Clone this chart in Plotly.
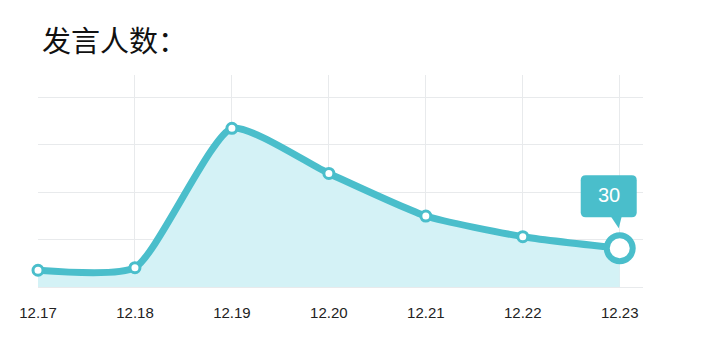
import plotly.graph_objects as go

categories = ["12.17", "12.18", "12.19", "12.20", "12.21", "12.22", "12.23"]
speakers = [13, 15, 123, 88, 55, 39, 30]
title_text = "发言人数："

LINE = "rgb(74,190,203)"
FILL = "rgb(212,242,246)"
GRID = "rgb(232,234,236)"

xs = list(range(len(categories)))

fig = go.Figure()
fig.add_trace(go.Scatter(
    x=xs, y=speakers, mode="lines+markers",
    line=dict(color=LINE, width=7, shape="spline", smoothing=0.55),
    fill="tozeroy", fillcolor=FILL,
    marker=dict(size=10, color="white", line=dict(color=LINE, width=3)),
    hoverinfo="skip", cliponaxis=False,
))
fig.add_trace(go.Scatter(
    x=[xs[-1]], y=[speakers[-1]], mode="markers",
    marker=dict(size=26, color="white", line=dict(color=LINE, width=6)),
    hoverinfo="skip", cliponaxis=False,
))

# tooltip: rounded box + pointer, anchored at the last point (pixel offsets)
r = 5
x0, x1, y0, y1 = -39, 17, 31, 73
box = (f"M {x0+r} {y0} L {x1-r} {y0} Q {x1} {y0} {x1} {y0+r} "
       f"L {x1} {y1-r} Q {x1} {y1} {x1-r} {y1} L {x0+r} {y1} "
       f"Q {x0} {y1} {x0} {y1-r} L {x0} {y0+r} Q {x0} {y0} {x0+r} {y0} Z")
fig.add_shape(
    type="path", xref="x", yref="y", xsizemode="pixel", ysizemode="pixel",
    xanchor=xs[-1], yanchor=speakers[-1], path=box,
    fillcolor=LINE, line=dict(width=0), layer="above",
)
fig.add_shape(
    type="path", xref="x", yref="y", xsizemode="pixel", ysizemode="pixel",
    xanchor=xs[-1], yanchor=speakers[-1],
    path="M -9 32 L 2 32 L -1 20 Z",
    fillcolor=LINE, line=dict(width=0), layer="above",
)
fig.add_annotation(
    x=xs[-1], y=speakers[-1], xref="x", yref="y",
    text=str(speakers[-1]), showarrow=False,
    xanchor="center", yanchor="middle", xshift=-11, yshift=53,
    font=dict(family="Liberation Sans, Arial", size=20, color="white"),
)

fig.update_layout(
    width=702, height=360,
    margin=dict(l=38, r=59, t=75, b=73),
    paper_bgcolor="white", plot_bgcolor="white",
    showlegend=False,
    font=dict(family="Liberation Sans, Arial", color="#222"),
)
fig.add_annotation(
    text=title_text, xref="paper", yref="paper", x=0.0033, y=1.172,
    xanchor="left", yanchor="middle", showarrow=False,
    font=dict(family="Noto Sans CJK SC", size=29, color="#111"),
)
fig.update_xaxes(
    range=[0, 6.24], tickmode="array", tickvals=xs, ticktext=categories,
    showgrid=True, gridcolor=GRID, gridwidth=1, zeroline=False,
    showline=True, linecolor=GRID, linewidth=1,
    ticks="outside", ticklen=12, tickcolor="rgba(0,0,0,0)",
    tickfont=dict(size=15, color="#222"),
)
fig.update_yaxes(
    range=[0, 164.3], tick0=0, dtick=36.8, showticklabels=False,
    showgrid=True, gridcolor=GRID, gridwidth=1, zeroline=False,
)

fig.write_html("out.html", config={"displayModeBar": False},
               post_script="document.body.style.margin='0';")
